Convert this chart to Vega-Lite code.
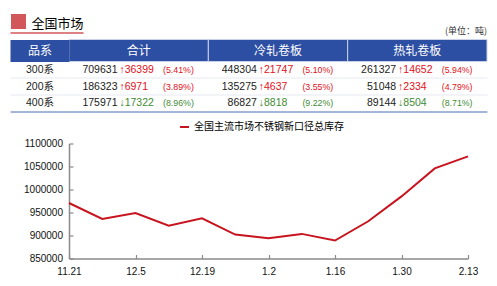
{
  "$schema": "https://vega.github.io/schema/vega-lite/v6.json",
  "padding": {"left": -1, "top": 5.5, "right": 0, "bottom": 0},
  "background": "#ffffff",
  "config": {
    "view": {"stroke": null},
    "font": "Liberation Sans, Noto Sans CJK SC"
  },
  "bounds": "flush",
  "spacing": 0,
  "vconcat": [
    {
      "width": 418,
      "height": 28,
      "data": {"values": [{"title": "全国市场", "unit": "(单位：吨)", "pos": 1}]},
      "mark": {"type": "text", "align": "right", "baseline": "middle", "fontSize": 9, "color": "#333333", "font": "Noto Sans CJK SC"},
      "encoding": {
        "x": {
          "field": "pos", "type": "quantitative",
          "scale": {"domain": [0, 1], "nice": false},
          "axis": {"orient": "bottom", "values": [0], "offset": -26, "tickSize": 15, "tickWidth": 15, "tickColor": "#d2575b", "tickOffset": -51.5, "labels": false, "domain": false, "grid": false, "title": null}
        },
        "y": {
          "field": "title", "type": "nominal", "bandPosition": 0.69,
          "scale": {"type": "band", "paddingInner": 0, "paddingOuter": 0},
          "axis": {"orient": "left", "bandPosition": 0.5, "offset": -14, "tickSize": 73, "tickWidth": 1.3, "tickColor": "#d2575b", "tickOffset": 7.3, "labelAlign": "left", "labelBaseline": "middle", "labelPadding": -21, "labelOffset": -9.8, "labelFontSize": 13, "labelColor": "#000000", "labelFont": "Noto Sans CJK SC", "domain": false, "grid": false, "title": null}
        },
        "text": {"field": "unit"}
      }
    },
    {
      "width": 418,
      "height": 22,
      "data": {"values": [{"col": "合计", "h": "品系"}, {"col": "冷轧卷板", "h": "品系"}, {"col": "热轧卷板", "h": "品系"}]},
      "encoding": {
        "x": {"field": "col", "type": "nominal", "sort": null, "scale": {"type": "band", "domain": ["合计", "冷轧卷板", "热轧卷板"], "paddingInner": 0, "paddingOuter": 0}, "axis": null},
        "y": {"field": "h", "type": "nominal", "scale": {"type": "band", "paddingInner": 0, "paddingOuter": 0},
          "axis": {"tickSize": 59, "tickWidth": 22, "tickColor": "#2c4ea3", "labelColor": "#ffffff", "labelFontSize": 12, "labelFont": "Noto Sans CJK SC", "labelAlign": "center", "labelBaseline": "middle", "labelPadding": -29.5, "domain": false, "grid": false, "title": null}}
      },
      "layer": [
        {"mark": {"type": "rect", "fill": "#2c4ea3", "stroke": "#c9d2e8", "strokeWidth": 1}},
        {"mark": {"type": "text", "color": "#ffffff", "fontSize": 12, "font": "Noto Sans CJK SC", "baseline": "middle"}, "encoding": {"text": {"field": "col"}}}
      ]
    },
    {
      "width": 418,
      "height": 50,
      "data": {"values": [
        {"row": "300系", "col": "合计", "val": 709631, "chg": 36399, "pct": 5.41},
        {"row": "300系", "col": "冷轧卷板", "val": 448304, "chg": 21747, "pct": 5.10},
        {"row": "300系", "col": "热轧卷板", "val": 261327, "chg": 14652, "pct": 5.94},
        {"row": "200系", "col": "合计", "val": 186323, "chg": 6971, "pct": 3.89},
        {"row": "200系", "col": "冷轧卷板", "val": 135275, "chg": 4637, "pct": 3.55},
        {"row": "200系", "col": "热轧卷板", "val": 51048, "chg": 2334, "pct": 4.79},
        {"row": "400系", "col": "合计", "val": 175971, "chg": -17322, "pct": 8.96},
        {"row": "400系", "col": "冷轧卷板", "val": 86827, "chg": -8818, "pct": 9.22},
        {"row": "400系", "col": "热轧卷板", "val": 89144, "chg": -8504, "pct": 8.71}
      ]},
      "transform": [
        {"calculate": "(datum.chg > 0 ? '↑' : '↓') + abs(datum.chg)", "as": "chgText"},
        {"calculate": "'(' + format(datum.pct, '.2f') + '%)'", "as": "pctText"}
      ],
      "encoding": {
        "y": {"field": "row", "type": "nominal", "sort": ["300系", "200系", "400系"],
          "scale": {"type": "band", "paddingInner": 0, "paddingOuter": 0},
          "axis": {"bandPosition": 1, "tickSize": 59, "tickWidth": 1,
            "tickColor": {"condition": {"test": "datum.value === '400系'", "value": "#4a6cb3"}, "value": "#e6e9f0"},
            "grid": true, "gridWidth": 1,
            "gridColor": {"condition": {"test": "datum.value === '400系'", "value": "#4a6cb3"}, "value": "#e6e9f0"},
            "labelAlign": "center", "labelBaseline": "middle", "labelPadding": -29.5, "labelFontSize": 10.5, "labelColor": "#222222", "domain": false, "title": null}}
      },
      "layer": [
        {
          "mark": {"type": "text", "align": "right", "baseline": "middle", "fontSize": 10.5, "color": "#222222"},
          "encoding": {
            "x": {"field": "col", "type": "nominal", "bandPosition": 0.348, "scale": {"type": "band", "domain": ["合计", "冷轧卷板", "热轧卷板"], "paddingInner": 0, "paddingOuter": 0}, "axis": null},
            "text": {"field": "val", "type": "quantitative", "format": "d"}
          }
        },
        {
          "mark": {"type": "text", "align": "left", "baseline": "middle", "fontSize": 10.5},
          "encoding": {
            "x": {"field": "col", "type": "nominal", "bandPosition": 0.362, "scale": {"type": "band", "domain": ["合计", "冷轧卷板", "热轧卷板"], "paddingInner": 0, "paddingOuter": 0}, "axis": null},
            "text": {"field": "chgText"},
            "color": {"condition": {"test": "datum.chg > 0", "value": "#e3101a"}, "value": "#3f8c35"}
          }
        },
        {
          "mark": {"type": "text", "align": "left", "baseline": "middle", "fontSize": 8.8},
          "encoding": {
            "x": {"field": "col", "type": "nominal", "bandPosition": 0.675, "scale": {"type": "band", "domain": ["合计", "冷轧卷板", "热轧卷板"], "paddingInner": 0, "paddingOuter": 0}, "axis": null},
            "text": {"field": "pctText"},
            "color": {"condition": {"test": "datum.chg > 0", "value": "#e3101a"}, "value": "#3f8c35"}
          }
        }
      ]
    },
    {
      "width": 418,
      "height": 32,
      "data": {"values": []},
      "mark": "point",
      "encoding": {}
    },
    {
      "width": 399,
      "height": 115,
      "data": {"values": [
        {"date": "11.21", "v": 970700, "s": "全国主流市场不锈钢新口径总库存"},
        {"date": "11.28", "v": 936000, "s": "全国主流市场不锈钢新口径总库存"},
        {"date": "12.5", "v": 949000, "s": "全国主流市场不锈钢新口径总库存"},
        {"date": "12.12", "v": 921500, "s": "全国主流市场不锈钢新口径总库存"},
        {"date": "12.19", "v": 937500, "s": "全国主流市场不锈钢新口径总库存"},
        {"date": "12.26", "v": 902000, "s": "全国主流市场不锈钢新口径总库存"},
        {"date": "1.2", "v": 894000, "s": "全国主流市场不锈钢新口径总库存"},
        {"date": "1.9", "v": 903500, "s": "全国主流市场不锈钢新口径总库存"},
        {"date": "1.16", "v": 889000, "s": "全国主流市场不锈钢新口径总库存"},
        {"date": "1.23", "v": 931000, "s": "全国主流市场不锈钢新口径总库存"},
        {"date": "1.30", "v": 985000, "s": "全国主流市场不锈钢新口径总库存"},
        {"date": "2.6", "v": 1045877, "s": "全国主流市场不锈钢新口径总库存"},
        {"date": "2.13", "v": 1071925, "s": "全国主流市场不锈钢新口径总库存"}
      ]},
      "mark": {"type": "line", "strokeWidth": 2},
      "encoding": {
        "x": {"field": "date", "type": "ordinal", "sort": null, "scale": {"type": "point", "padding": 0},
          "axis": {"values": ["11.21", "12.5", "12.19", "1.2", "1.16", "1.30", "2.13"], "labelAngle": 0, "tickSize": -4, "labelPadding": 12, "labelFontSize": 10, "labelColor": "#111111", "domainColor": "#8a8a8a", "tickColor": "#8a8a8a", "domainWidth": 1.5, "tickWidth": 1.2, "grid": false, "title": null}},
        "y": {"field": "v", "type": "quantitative", "scale": {"domain": [850000, 1100000], "nice": false, "zero": false},
          "axis": {"values": [850000, 900000, 950000, 1000000, 1050000, 1100000], "format": "d", "tickSize": -4, "labelPadding": 10.5, "labelFontSize": 10, "labelColor": "#111111", "domainColor": "#8a8a8a", "tickColor": "#8a8a8a", "domainWidth": 1.5, "tickWidth": 1.2, "grid": false, "title": null}},
        "color": {"field": "s", "type": "nominal", "scale": {"range": ["#c8141e"]},
          "legend": {"orient": "none", "legendX": 110, "legendY": 110, "title": null, "symbolType": "stroke", "symbolSize": 81, "symbolStrokeWidth": 2, "labelFontSize": 10, "labelColor": "#000000", "labelFont": "Noto Sans CJK SC", "padding": 0}}
      }
    }
  ]
}
